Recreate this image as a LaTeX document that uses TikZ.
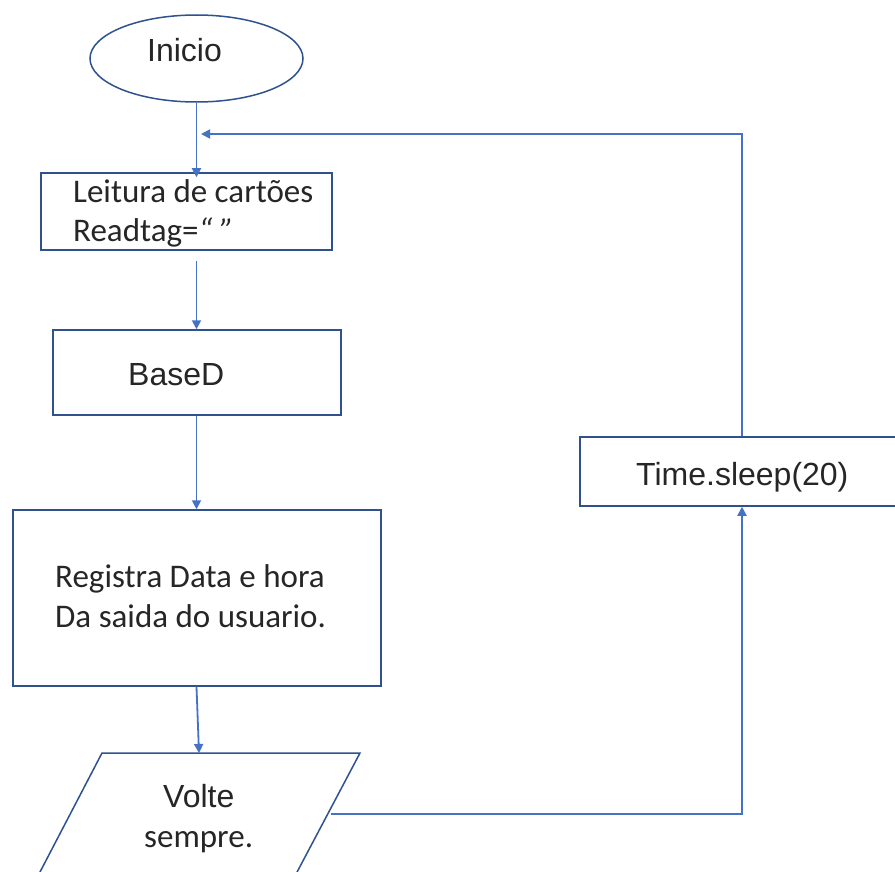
\documentclass[tikz,border=0pt]{standalone}
\usepackage{fontspec}
\setmainfont{Liberation Sans}
\newfontfamily\calfont{Carlito}
\usetikzlibrary{arrows.meta,shapes.geometric,calc}
\definecolor{edge}{HTML}{2F528F}
\definecolor{conn}{HTML}{4472C4}
\tikzset{
  shapebox/.style={draw=edge,line width=1.5pt,rectangle,inner sep=0pt,fill=white},
  conn/.style={draw=conn,line width=1.8pt,-{Triangle[length=9pt,width=9pt]}},
  txtA/.style={anchor=base west,inner sep=0pt,font=\fontsize{32}{38}\selectfont,text=black!85},
  txtC/.style={anchor=base west,inner sep=0pt,font=\calfont\fontsize{33}{40}\selectfont,text=black!85},
}
\begin{document}
\begin{tikzpicture}[x=1pt,y=-1pt]
\useasboundingbox (0,0) rectangle (895,872);
\fill[white] (0,0) rectangle (895,872);
% shapes
\node[draw=edge,line width=1.5pt,ellipse,minimum width=213pt,minimum height=87pt,inner sep=0pt] (ini) at (196.5,58.5) {};
\node[shapebox,minimum width=291pt,minimum height=77pt] (b1) at (186.5,211.5) {};
\node[shapebox,minimum width=288pt,minimum height=85pt] (b2) at (197,372.5) {};
\node[shapebox,minimum width=368pt,minimum height=176pt] (b3) at (197,598) {};
\node[shapebox,minimum width=324pt,minimum height=69pt] (ts) at (742,471.5) {};
% parallelogram
\coordinate (ptl) at (102,753);
\coordinate (ptr) at (360,753);
\coordinate (pbr) at (297,872);
\coordinate (pbl) at (40,872);
\begin{scope}
\clip (0,0) rectangle (895,872);
\draw[edge,line width=1.5pt] ($(pbl)+(-5.2,10)$) -- (ptl) -- (ptr) -- ($(pbr)+(-5.2,10)$);
\end{scope}
\coordinate (pr) at (331,814);
\coordinate (ptop) at (199,753);
% texts
\node[txtA] (tini) at (147,62) {Inicio};
\node[txtC] (t1a) at (73,203) {Leitura de cartões};
\node[txtC] (t1b) at (73,241) {Readtag=\textit{“ ”}};
\node[txtA] (tb2) at (128,385) {BaseD};
\node[txtC] (t3a) at (55,587) {Registra Data e hora};
\node[txtC] (t3b) at (55,627) {Da saida do usuario.};
\node[txtA] (tvo) at (163,807) {Volte};
\node[txtC] (tse) at (144,847) {sempre.};
\node[txtA] (tts) at (636,485) {Time.sleep(20)};
% connectors
\draw[conn] (ini.south) -- ([yshift=-5pt]b1.north -| ini.south);
\draw[conn] ([yshift=-10pt]b1.south -| ini.south) -- (b2.north -| ini.south);
\draw[conn] (b2.south -| ini.south) -- (b3.north -| ini.south);
\draw[conn] (b3.south -| ini.south) -- (ptop);
\draw[conn] (pr) -| (ts.south);
\draw[conn] (ts.north) |- (201,134);
\end{tikzpicture}
\end{document}
